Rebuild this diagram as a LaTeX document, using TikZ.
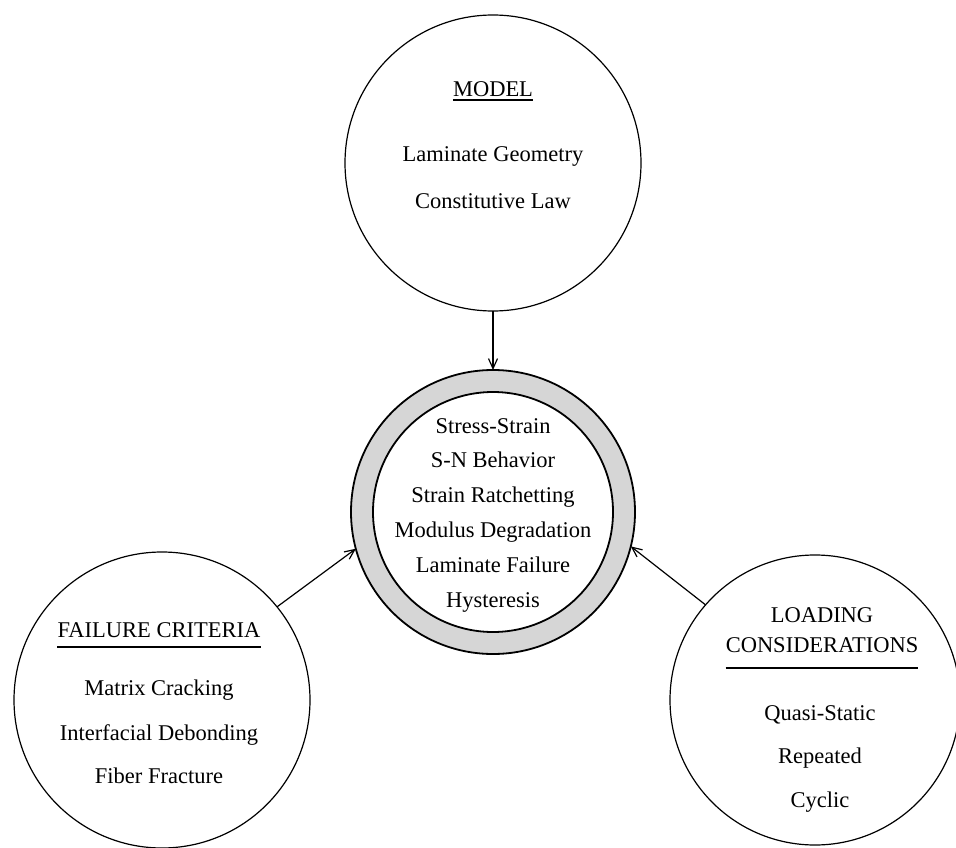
\documentclass[tikz,border=0pt]{standalone}
\usepackage{fontspec}
\setmainfont{Liberation Serif}
\usetikzlibrary{arrows.meta}
\begin{document}
\begin{tikzpicture}[x=1pt,y=-1pt,
  bubble/.style={circle,draw=black,line width=1.2pt,inner sep=0pt,outer sep=0pt},
  txt/.style={inner sep=0pt,anchor=base,font=\fontsize{22.5}{27}\selectfont},
  ul/.style={line width=1.1pt},
  arr/.style={line width=1.2pt,-{Straight Barb[length=10pt,width=9pt,line width=1.2pt]}}]
\useasboundingbox (0,0) rectangle (956,848);
% circles
\node[bubble,minimum size=296pt] (top) at (493,163) {};
\node[bubble,minimum size=296pt] (lc) at (162,700) {};
\node[bubble,minimum size=290pt] (rc) at (815,700) {};
\node[bubble,line width=1.8pt,fill=black!16,minimum size=284pt] (ring) at (493,512) {};
\node[bubble,line width=1.8pt,fill=white,minimum size=240pt] (ringin) at (493,512) {};
% top texts
\node[txt] (model) at (493,97) {MODEL};
\node[txt] (m1) at (493,162) {Laminate Geometry};
\node[txt] (m2) at (493,208) {Constitutive Law};
\draw[ul] ([yshift=-3pt]model.base west) -- ([yshift=-3pt]model.base east);
% ring texts
\node[txt] (r1) at (493,433) {Stress-Strain};
\node[txt] (r2) at (493,467.5) {S-N Behavior};
\node[txt] (r3) at (493,502) {Strain Ratchetting};
\node[txt] (r4) at (493,537) {Modulus Degradation};
\node[txt] (r5) at (493,572) {Laminate Failure};
\node[txt] (r6) at (493,607) {Hysteresis};
% left texts
\node[txt] (fc) at (159,637) {FAILURE CRITERIA};
\draw[ul] ([yshift=-10pt]fc.base west) -- ([yshift=-10pt]fc.base east);
\node[txt] (l1) at (159,695) {Matrix Cracking};
\node[txt] (l2) at (159,740) {Interfacial Debonding};
\node[txt] (l3) at (159,783) {Fiber Fracture};
% right texts
\node[txt] (ld) at (822,622) {LOADING};
\node[txt] (cs) at (822,652) {CONSIDERATIONS};
\draw[ul] ([yshift=-16pt]cs.base west) -- ([yshift=-16pt]cs.base east);
\node[txt] (q1) at (820,720) {Quasi-Static};
\node[txt] (q2) at (820,763) {Repeated};
\node[txt] (q3) at (820,807) {Cyclic};
% arrows
\draw[arr] (top.south) -- (ring.north);
\draw[arr] (lc.39) -- (ring.195.5);
\draw[arr] (rc.139.5) -- (ring.346);
\end{tikzpicture}
\end{document}
